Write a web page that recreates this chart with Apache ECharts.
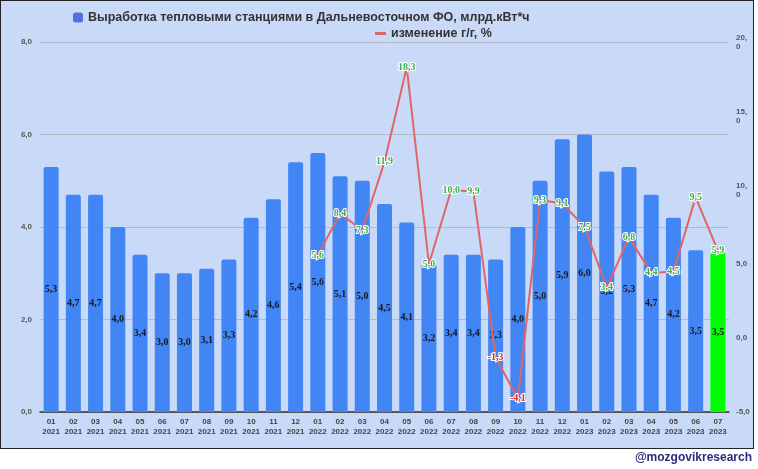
<!DOCTYPE html>
<html><head><meta charset="utf-8">
<script src="https://cdn.jsdelivr.net/npm/echarts@6/dist/echarts.min.js"></script>
<style>
html,body{margin:0;padding:0;background:#fff;}
#frame{position:absolute;left:0;top:0;width:752px;height:447px;border:1.5px solid #222;background:#c9daf8;}
#c{position:absolute;left:0;top:0;width:758px;height:469px;}
</style></head>
<body>
<div id="frame"></div>
<div id="c"></div>
<script>
const categories = ["01\n2021","02\n2021","03\n2021","04\n2021","05\n2021","06\n2021","07\n2021","08\n2021","09\n2021","10\n2021","11\n2021","12\n2021",
"01\n2022","02\n2022","03\n2022","04\n2022","05\n2022","06\n2022","07\n2022","08\n2022","09\n2022","10\n2022","11\n2022","12\n2022",
"01\n2023","02\n2023","03\n2023","04\n2023","05\n2023","06\n2023","07\n2023"];
const generation = [5.3,4.7,4.7,4.0,3.4,3.0,3.0,3.1,3.3,4.2,4.6,5.4,5.6,5.1,5.0,4.5,4.1,3.2,3.4,3.4,3.3,4.0,5.0,5.9,6.0,5.2,5.3,4.7,4.2,3.5,3.45];
const generationLabels = ["5,3","4,7","4,7","4,0","3,4","3,0","3,0","3,1","3,3","4,2","4,6","5,4","5,6","5,1","5,0","4,5","4,1","3,2","3,4","3,4","3,3","4,0","5,0","5,9","6,0","5,2","5,3","4,7","4,2","3,5","3,5"];
const yoyChange = [null,null,null,null,null,null,null,null,null,null,null,null,
5.6,8.4,7.3,11.9,18.3,5.0,10.0,9.9,-1.3,-4.1,9.3,9.1,7.5,3.4,6.8,4.4,4.5,9.5,5.9];
const barName = "Выработка тепловыми станциями в Дальневосточном ФО, млрд.кВт*ч";
const lineName = "изменение г/г, %";
const fmt = v => v.toFixed(1).replace('.', ',');

const chart = echarts.init(document.getElementById('c'), null, {renderer:'canvas'});
chart.setOption({
  backgroundColor: 'transparent',
  animation: false,
  textStyle: {fontFamily: 'Liberation Sans, Arial, sans-serif'},
  legend: [
    {data:[barName], left: 68, top: 6, itemWidth: 10, itemHeight: 10, itemGap: 6,
     icon: 'roundRect', textStyle:{fontSize: 12.5, fontWeight:'bold', color:'#333'}},
    {data:[lineName], left: 370, top: 22, itemWidth: 11, itemHeight: 3, itemGap: 6,
     icon: 'rect', textStyle:{fontSize: 12.5, fontWeight:'bold', color:'#333'}}
  ],
  grid: {left: 40, right: 29, top: 42, bottom: 57},
  xAxis: {
    type: 'category', data: categories,
    axisLine: {lineStyle:{color:'#333', width: 1.5}},
    axisTick: {show:false},
    axisLabel: {fontSize: 8, fontWeight:'bold', color:'#444', lineHeight: 10, margin: 5, interval: 0}
  },
  yAxis: [
    {type:'value', min:0, max:8, interval:2, position:'left',
     axisLabel:{formatter: v => fmt(v), fontSize: 8, fontWeight:'bold', color:'#555', margin: 8},
     axisLine:{show:false}, axisTick:{show:false},
     splitLine:{lineStyle:{color:'#b4b9c4', width:1}}},
    {type:'value', min:-5, max:20, interval:5, position:'right',
     axisLabel:{formatter: v => { const s = fmt(v); return v >= 10 ? s.replace(',', ',\n') : s; },
       fontSize: 8, fontWeight:'bold', color:'#555', margin: 7, lineHeight: 9, align:'left', verticalAlign:'middle'},
     axisLine:{show:false}, axisTick:{show:false}, splitLine:{show:false}}
  ],
  series: [
    {name: barName, type:'bar', data: generation, yAxisIndex:0, barWidth: 15,
     itemStyle:{color: p => p.dataIndex === generation.length - 1 ? '#00ff00' : '#4285f4', borderRadius:[2,2,0,0]},
     label:{show:true, position:'inside', formatter: p => generationLabels[p.dataIndex],
       fontFamily:'Liberation Serif, serif', fontWeight:'bold', fontSize: 10, color:'#1a1a1a'}},
    {name: lineName, type:'line', data: yoyChange, yAxisIndex:1, showSymbol:true, symbol:'circle', symbolSize: 2, z: 5,
     lineStyle:{color:'#e06666', width: 2}, itemStyle:{color:'#e06666'},
     label:{show:true, position:'inside',
       formatter: p => (p.value < 0 ? '{r|' : '{g|') + fmt(p.value) + '}',
       rich:{
         g:{color:'#3fae49', fontFamily:'Liberation Serif, serif', fontWeight:'bold', fontSize:10, textBorderColor:'#fff', textBorderWidth:2},
         r:{color:'#d93025', fontFamily:'Liberation Serif, serif', fontWeight:'bold', fontSize:10, textBorderColor:'#fff', textBorderWidth:2}
       }}}
  ],
  graphic: [
    {type:'text', right: 6, top: 452, style:{text:'@mozgovikresearch', fill:'#2b2d7c', font:'bold 12px Liberation Sans, Arial, sans-serif'}}
  ]
});
</script>
</body></html>
